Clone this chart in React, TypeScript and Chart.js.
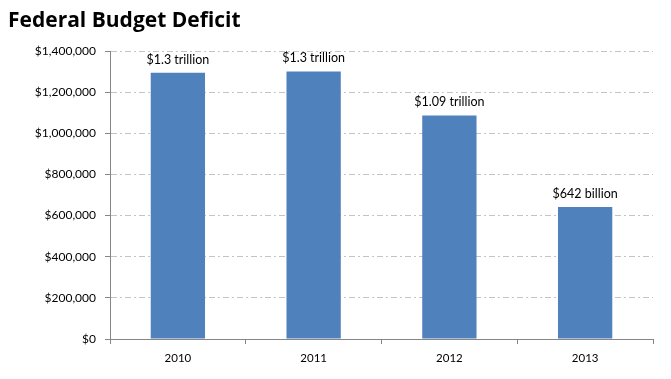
import React, { useEffect, useRef } from "react";
import { Chart, registerables } from "chart.js";

Chart.register(...registerables);

const title = "Federal Budget Deficit";
const categories = ["2010", "2011", "2012", "2013"];
const deficits = [1294000, 1300000, 1087000, 642000];
const barLabels = ["$1.3 trillion", "$1.3 trillion", "$1.09 trillion", "$642 billion"];
const yMin = 0;
const yMax = 1400000;
const yStep = 200000;

const FONT = "Lato, 'Open Sans', sans-serif";

const overlayPlugin = {
  id: "overlay",
  afterDatasetsDraw(chart: any) {
    const ctx = chart.ctx;
    const meta = chart.getDatasetMeta(0);
    ctx.save();
    ctx.fillStyle = "#000000";
    ctx.font = `12.5px ${FONT}`;
    ctx.textAlign = "center";
    ctx.textBaseline = "bottom";
    meta.data.forEach((bar: any, i: number) => {
      ctx.fillText(barLabels[i], bar.x, bar.y - 7);
    });
    ctx.textAlign = "left";
    ctx.textBaseline = "alphabetic";
    ctx.font = `bold 21px 'Open Sans', sans-serif`;
    ctx.fillText(title, 8, 27);
    ctx.restore();
  },
};

function fmt(v: number) {
  return "$" + v.toLocaleString("en-US");
}

export default function App() {
  const ref = useRef<HTMLCanvasElement | null>(null);
  useEffect(() => {
    if (!ref.current) return;
    const chart = new Chart(ref.current, {
      type: "bar",
      data: {
        labels: categories,
        datasets: [
          {
            data: deficits,
            backgroundColor: "#4F81BD",
            borderWidth: 0,
            categoryPercentage: 1,
            barPercentage: 0.4,
          },
        ],
      },
      options: {
        animation: false,
        responsive: false,
        maintainAspectRatio: false,
        layout: { padding: { top: 51, right: 18, bottom: 0, left: 0 } },
        plugins: {
          legend: { display: false },
          tooltip: { enabled: false },
          title: { display: false },
        },
        scales: {
          x: {
            afterFit(scale: any) {
              scale.height = 40;
            },
            grid: {
              display: true,
              drawOnChartArea: false,
              drawTicks: true,
              tickLength: 5,
              tickColor: "#868686",
              offset: true,
            },
            border: { display: true, color: "#868686", width: 1 },
            ticks: {
              color: "#000000",
              font: { family: FONT, size: 11.5 },
              padding: 7,
            },
          },
          y: {
            min: yMin,
            max: yMax,
            afterFit(scale: any) {
              scale.width = 110;
            },
            grid: {
              color: "#c4c4c4",
              lineWidth: 1,
              drawTicks: true,
              tickLength: 5,
              tickColor: "#868686",
            },
            border: { display: true, color: "#868686", width: 1, dash: [6, 3, 2, 3] },
            ticks: {
              stepSize: yStep,
              color: "#000000",
              font: { family: FONT, size: 12 },
              padding: 9,
              callback: (v: any) => fmt(Number(v)),
            },
          },
        },
      },
      plugins: [overlayPlugin],
    });
    return () => chart.destroy();
  }, []);
  return (
    <div style={{ position: "fixed", left: 0, top: 0, width: 671, height: 379, background: "#fff" }}>
      <canvas ref={ref} width={671} height={379} style={{ display: "block" }} />
    </div>
  );
}
